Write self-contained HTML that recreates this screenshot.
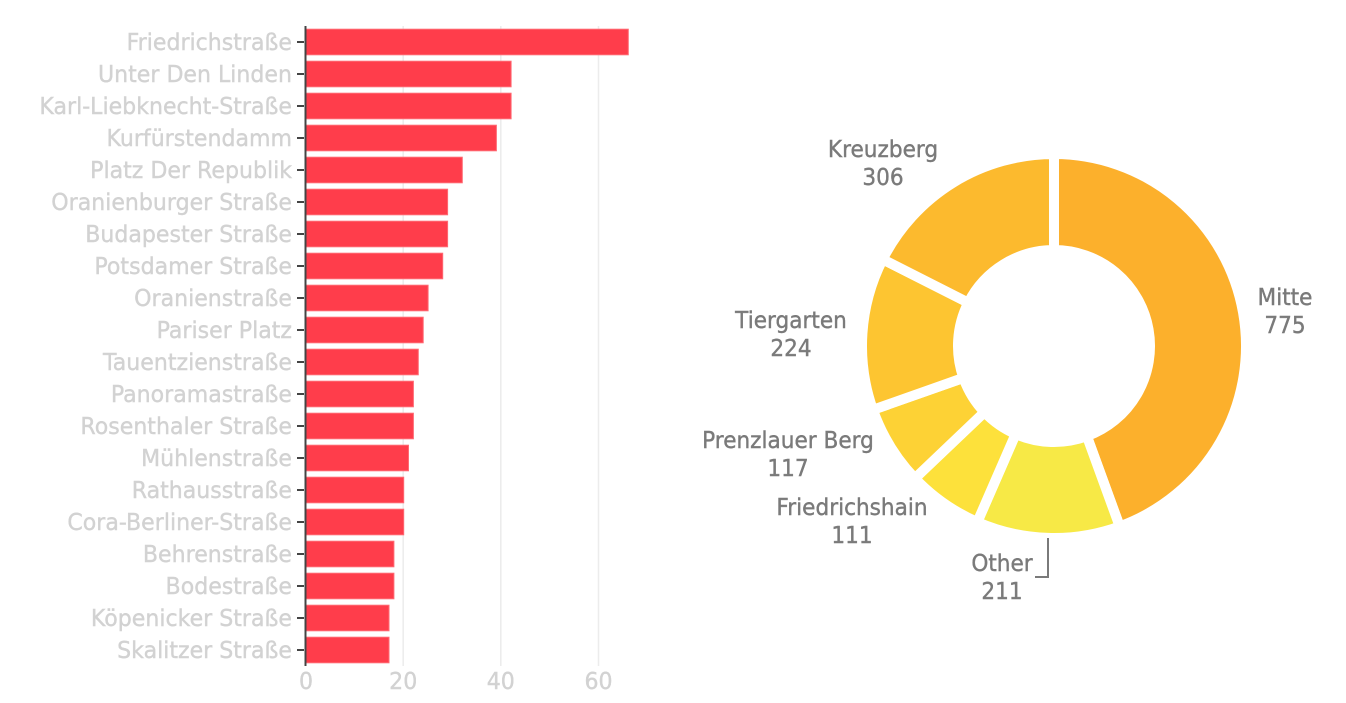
<!DOCTYPE html>
<html>
<head>
<meta charset="utf-8">
<style>
  html, body { margin: 0; padding: 0; background: #fff; }
  svg { display: block; }
  .yl { font-family: "DejaVu Sans", "Liberation Sans", sans-serif; font-size: 23px; fill: #d2d2d2; stroke: #d2d2d2; stroke-width: 0.4; text-anchor: end; }
  .xl { font-family: "DejaVu Sans", "Liberation Sans", sans-serif; font-size: 23px; fill: #d2d2d2; stroke: #d2d2d2; stroke-width: 0.4; text-anchor: middle; }
  .pl { font-family: "DejaVu Sans", "Liberation Sans", sans-serif; font-size: 23px; fill: #7a7a7a; stroke: #7a7a7a; stroke-width: 0.4; text-anchor: middle; }
  .bar { fill: #ff3d4b; stroke: #ff6a73; stroke-width: 1; }
</style>
</head>
<body>
<svg width="1346" height="703" viewBox="0 0 1346 703" xmlns="http://www.w3.org/2000/svg">
  <rect width="1346" height="703" fill="#fff"/>

  <!-- gridlines -->
  <g stroke="#ececec" stroke-width="1.5">
    <line x1="403.2" y1="26" x2="403.2" y2="666"/>
    <line x1="500.8" y1="26" x2="500.8" y2="666"/>
    <line x1="598.5" y1="26" x2="598.5" y2="666"/>
  </g>

  <!-- bars -->
  <g>
    <rect class="bar" x="306" y="29.2" width="322.3" height="25.6"/>
    <rect class="bar" x="306" y="61.2" width="205.1" height="25.6"/>
    <rect class="bar" x="306" y="93.2" width="205.1" height="25.6"/>
    <rect class="bar" x="306" y="125.2" width="190.4" height="25.6"/>
    <rect class="bar" x="306" y="157.2" width="156.3" height="25.6"/>
    <rect class="bar" x="306" y="189.2" width="141.6" height="25.6"/>
    <rect class="bar" x="306" y="221.2" width="141.6" height="25.6"/>
    <rect class="bar" x="306" y="253.2" width="136.7" height="25.6"/>
    <rect class="bar" x="306" y="285.2" width="122.1" height="25.6"/>
    <rect class="bar" x="306" y="317.2" width="117.2" height="25.6"/>
    <rect class="bar" x="306" y="349.2" width="112.3" height="25.6"/>
    <rect class="bar" x="306" y="381.2" width="107.4" height="25.6"/>
    <rect class="bar" x="306" y="413.2" width="107.4" height="25.6"/>
    <rect class="bar" x="306" y="445.2" width="102.5" height="25.6"/>
    <rect class="bar" x="306" y="477.2" width="97.7" height="25.6"/>
    <rect class="bar" x="306" y="509.2" width="97.7" height="25.6"/>
    <rect class="bar" x="306" y="541.2" width="87.9" height="25.6"/>
    <rect class="bar" x="306" y="573.2" width="87.9" height="25.6"/>
    <rect class="bar" x="306" y="605.2" width="83.0" height="25.6"/>
    <rect class="bar" x="306" y="637.2" width="83.0" height="25.6"/>
  </g>

  <!-- y axis line & ticks -->
  <line x1="305.5" y1="26" x2="305.5" y2="666" stroke="#444" stroke-width="2"/>
  <g stroke="#444" stroke-width="2">
    <line x1="297" y1="42" x2="304" y2="42"/>
    <line x1="297" y1="74" x2="304" y2="74"/>
    <line x1="297" y1="106" x2="304" y2="106"/>
    <line x1="297" y1="138" x2="304" y2="138"/>
    <line x1="297" y1="170" x2="304" y2="170"/>
    <line x1="297" y1="202" x2="304" y2="202"/>
    <line x1="297" y1="234" x2="304" y2="234"/>
    <line x1="297" y1="266" x2="304" y2="266"/>
    <line x1="297" y1="298" x2="304" y2="298"/>
    <line x1="297" y1="330" x2="304" y2="330"/>
    <line x1="297" y1="362" x2="304" y2="362"/>
    <line x1="297" y1="394" x2="304" y2="394"/>
    <line x1="297" y1="426" x2="304" y2="426"/>
    <line x1="297" y1="458" x2="304" y2="458"/>
    <line x1="297" y1="490" x2="304" y2="490"/>
    <line x1="297" y1="522" x2="304" y2="522"/>
    <line x1="297" y1="554" x2="304" y2="554"/>
    <line x1="297" y1="586" x2="304" y2="586"/>
    <line x1="297" y1="618" x2="304" y2="618"/>
    <line x1="297" y1="650" x2="304" y2="650"/>
  </g>

  <!-- y labels -->
  <g transform="translate(292,0) scale(0.96,1)">
    <text class="yl" x="0" y="50">Friedrichstraße</text>
    <text class="yl" x="0" y="82">Unter Den Linden</text>
    <text class="yl" x="0" y="114">Karl-Liebknecht-Straße</text>
    <text class="yl" x="0" y="146">Kurfürstendamm</text>
    <text class="yl" x="0" y="178">Platz Der Republik</text>
    <text class="yl" x="0" y="210">Oranienburger Straße</text>
    <text class="yl" x="0" y="242">Budapester Straße</text>
    <text class="yl" x="0" y="274">Potsdamer Straße</text>
    <text class="yl" x="0" y="306">Oranienstraße</text>
    <text class="yl" x="0" y="338">Pariser Platz</text>
    <text class="yl" x="0" y="370">Tauentzienstraße</text>
    <text class="yl" x="0" y="402">Panoramastraße</text>
    <text class="yl" x="0" y="434">Rosenthaler Straße</text>
    <text class="yl" x="0" y="466">Mühlenstraße</text>
    <text class="yl" x="0" y="498">Rathausstraße</text>
    <text class="yl" x="0" y="530">Cora-Berliner-Straße</text>
    <text class="yl" x="0" y="562">Behrenstraße</text>
    <text class="yl" x="0" y="594">Bodestraße</text>
    <text class="yl" x="0" y="626">Köpenicker Straße</text>
    <text class="yl" x="0" y="658">Skalitzer Straße</text>
  </g>

  <!-- x labels -->
  <text class="xl" transform="translate(306,689) scale(0.96,1)">0</text>
  <text class="xl" transform="translate(403.2,689) scale(0.96,1)">20</text>
  <text class="xl" transform="translate(500.8,689) scale(0.96,1)">40</text>
  <text class="xl" transform="translate(598.5,689) scale(0.96,1)">60</text>

  <!-- donut -->
  <g stroke="#fff" stroke-width="10" stroke-linejoin="miter">
    <path fill="#fcb02c" d="M1054,154 A192,192 0 0 1 1119.73,526.40 L1086.87,436.20 A96,96 0 0 0 1054,250 Z"/>
    <path fill="#f7e946" d="M1119.73,526.40 A192,192 0 0 1 977.34,522.03 L1015.67,434.01 A96,96 0 0 0 1086.87,436.20 Z"/>
    <path fill="#fde13b" d="M977.34,522.03 A192,192 0 0 1 914.89,478.33 L984.44,412.17 A96,96 0 0 0 1015.67,434.01 Z"/>
    <path fill="#fdd235" d="M914.89,478.33 A192,192 0 0 1 872.91,409.80 L963.45,377.90 A96,96 0 0 0 984.44,412.17 Z"/>
    <path fill="#fdc531" d="M872.91,409.80 A192,192 0 0 1 882.67,259.33 L968.33,302.67 A96,96 0 0 0 963.45,377.90 Z"/>
    <path fill="#fcba2e" d="M882.67,259.33 A192,192 0 0 1 1054,154 L1054,250 A96,96 0 0 0 968.33,302.67 Z"/>
  </g>

  <!-- donut labels -->
  <text class="pl" transform="translate(883,157) scale(0.94,1)">Kreuzberg</text>
  <text class="pl" transform="translate(883,185) scale(0.94,1)">306</text>
  <text class="pl" transform="translate(1285,305) scale(0.94,1)">Mitte</text>
  <text class="pl" transform="translate(1285,333) scale(0.94,1)">775</text>
  <text class="pl" transform="translate(791,328) scale(0.94,1)">Tiergarten</text>
  <text class="pl" transform="translate(791,356) scale(0.94,1)">224</text>
  <text class="pl" transform="translate(788,448) scale(0.94,1)">Prenzlauer Berg</text>
  <text class="pl" transform="translate(788,476) scale(0.94,1)">117</text>
  <text class="pl" transform="translate(852,515) scale(0.94,1)">Friedrichshain</text>
  <text class="pl" transform="translate(852,543) scale(0.94,1)">111</text>
  <text class="pl" transform="translate(1002,571) scale(0.94,1)">Other</text>
  <text class="pl" transform="translate(1002,599) scale(0.94,1)">211</text>

  <!-- Other connector -->
  <polyline points="1048,538 1048,577 1035,577" fill="none" stroke="#7a7a7a" stroke-width="2"/>
</svg>
</body>
</html>
